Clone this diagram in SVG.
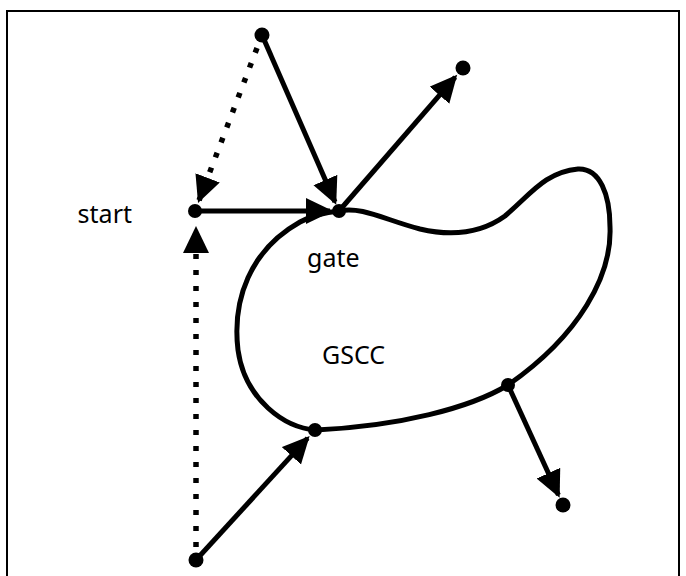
<svg xmlns="http://www.w3.org/2000/svg" width="686" height="576" viewBox="0 0 686 576">
<style>
.frame{fill:none;stroke:#000;stroke-width:2}
.blob{fill:none;stroke:#000;stroke-width:5;stroke-linejoin:round}
.solid{fill:none;stroke:#000;stroke-width:5}
.dotted{fill:none;stroke:#000;stroke-width:5.5;stroke-dasharray:5 11}
.dot{fill:#000}
.lbl{font-family:"Noto Sans","Open Sans",sans-serif;font-size:25px;fill:#000}
</style>
<defs>
<marker id="ah" markerUnits="userSpaceOnUse" markerWidth="30" markerHeight="28" refX="24" refY="13" orient="auto" viewBox="0 0 30 28">
<path d="M0,0 L27,13 L0,26 Z" fill="#000"/>
</marker>
</defs>
<rect width="686" height="576" fill="#fff"/>
<path class="frame" d="M7,576 V11 H679 V576"/>
<g id="gscc">
<path class="blob" d="M339,211 C362,206 385,220 420,229 C450,236 480,234 505,216 C530,195 545,172 578,169 C600,168 610,195 610,227 C612,275 580,335 508,385 C470,408 400,426 316,430 C285,428 245,400 238,350 C232,300 250,250 300,222 C315,214 328,212 339,211 Z"/>
<text class="lbl" x="322" y="364">GSCC</text>
</g>
<g id="connectors">
<line class="solid" x1="262" y1="35" x2="335" y2="202" marker-end="url(#ah)"/>
<line class="dotted" x1="257" y1="48" x2="199.1" y2="200.2" marker-end="url(#ah)"/>
<line class="solid" x1="201" y1="211" x2="330" y2="211" marker-end="url(#ah)"/>
<line class="solid" x1="339" y1="211" x2="455.2" y2="77.1" marker-end="url(#ah)"/>
<line class="dotted" x1="196" y1="547" x2="196" y2="229" marker-end="url(#ah)"/>
<line class="solid" x1="196" y1="560" x2="307.6" y2="438.1" marker-end="url(#ah)"/>
<line class="solid" x1="508" y1="385" x2="558.4" y2="495" marker-end="url(#ah)"/>
</g>
<g id="n-top"><circle class="dot" cx="262" cy="35" r="7.5"/></g>
<g id="n-start"><circle class="dot" cx="195" cy="211" r="7"/><text class="lbl" x="132" y="223" text-anchor="end">start</text></g>
<g id="n-gate"><circle class="dot" cx="339" cy="211" r="7"/><text class="lbl" x="307" y="267">gate</text></g>
<g id="n-topright"><circle class="dot" cx="463" cy="68" r="7.5"/></g>
<g id="n-bottom"><circle class="dot" cx="196" cy="560" r="7.5"/></g>
<g id="n-lower"><circle class="dot" cx="315" cy="430" r="7"/></g>
<g id="n-right"><circle class="dot" cx="508" cy="385" r="7"/></g>
<g id="n-bottomright"><circle class="dot" cx="563" cy="505" r="7.5"/></g>
</svg>
